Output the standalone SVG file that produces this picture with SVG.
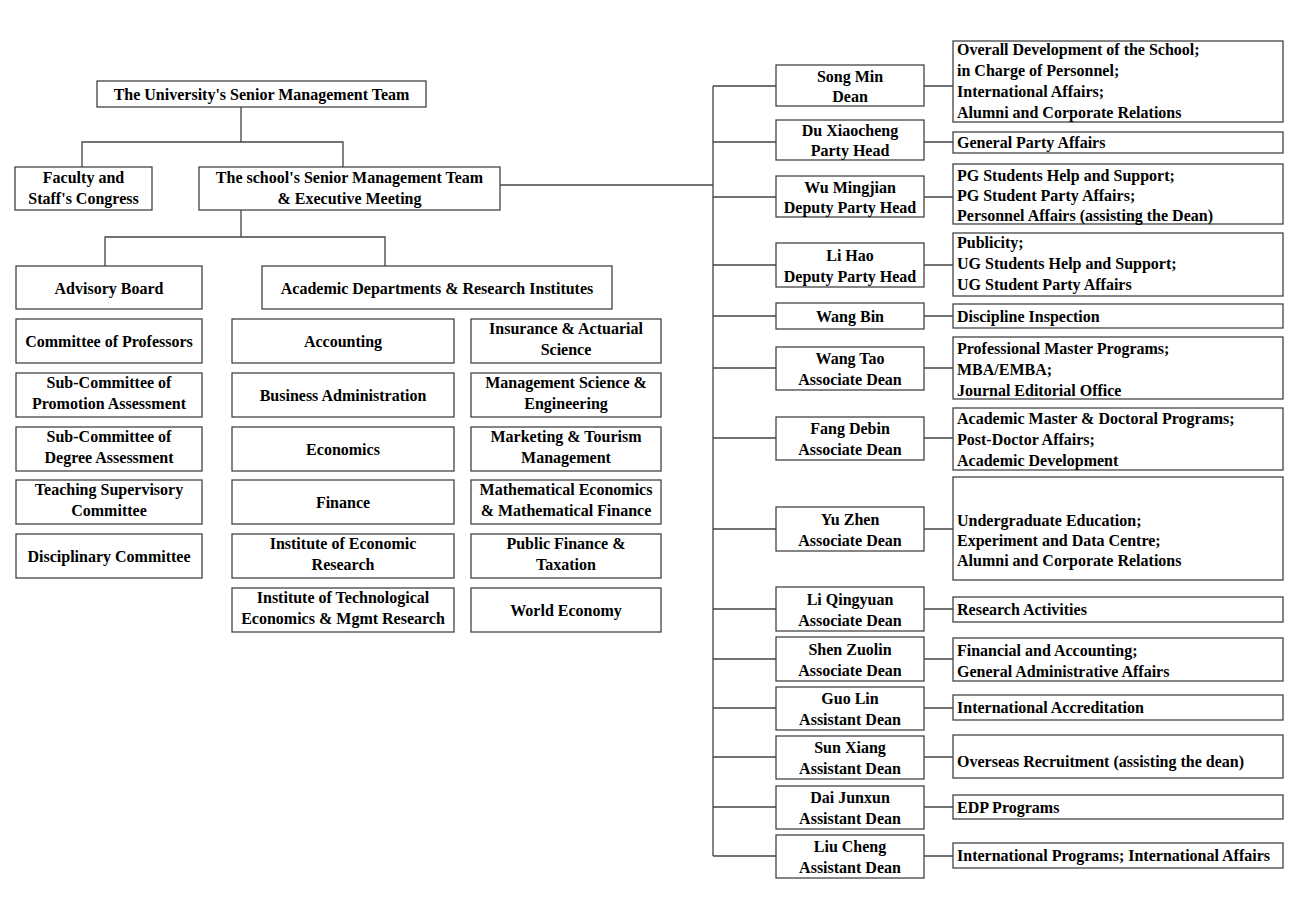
<svg xmlns="http://www.w3.org/2000/svg" width="1306" height="904" viewBox="0 0 1306 904">
<style>
.b{fill:#fff;stroke:#444;stroke-width:1.3}
.t{font-family:"Liberation Serif","Times New Roman",serif;font-weight:bold;font-size:16px;fill:#000}
.c{text-anchor:middle}
.ln{stroke:#444;stroke-width:1.3;fill:none}
</style>
<rect width="1306" height="904" fill="#fff"/>
<g id="connectors">
<path class="ln" d="M241,107V142M82,167V142H343V167M241,210V237M105,266V237H385V266M500,185H713M713,86V856"/>
<path class="ln" d="M713,86H776M924,86H953M713,142H776M924,142H953M713,197H776M924,197H953M713,265H776M924,265H953M713,316H776M924,316H953M713,368H776M924,368H953M713,438H776M924,438H953M713,529H776M924,529H953M713,609H776M924,609H953M713,659H776M924,659H953M713,708H776M924,708H953M713,757H776M924,757H953M713,807H776M924,807H953M713,856H776M924,856H953"/>
</g>
<g id="univ"><rect class="b" x="97" y="81" width="329" height="26"/><text class="t c" x="261.5" y="100">The University's Senior Management Team</text></g>
<g id="faculty"><rect class="b" x="15" y="167" width="137" height="43"/><text class="t c" x="83.5" y="183">Faculty and</text><text class="t c" x="83.5" y="204">Staff's Congress</text></g>
<g id="school"><rect class="b" x="199" y="167" width="301" height="43"/><text class="t c" x="349.5" y="183">The school's Senior Management Team</text><text class="t c" x="349.5" y="204">&amp; Executive Meeting</text></g>
<g id="advisory"><rect class="b" x="16" y="266" width="186" height="43"/><text class="t c" x="109" y="294">Advisory Board</text></g>
<g id="academic"><rect class="b" x="262" y="266" width="350" height="43"/><text class="t c" x="437" y="294">Academic Departments &amp; Research Institutes</text></g>
<g id="l1"><rect class="b" x="16" y="319" width="186" height="44"/><text class="t c" x="109" y="347">Committee of Professors</text></g>
<g id="l2"><rect class="b" x="16" y="373" width="186" height="44"/><text class="t c" x="109" y="388">Sub-Committee of</text><text class="t c" x="109" y="409">Promotion Assessment</text></g>
<g id="l3"><rect class="b" x="16" y="427" width="186" height="44"/><text class="t c" x="109" y="442">Sub-Committee of</text><text class="t c" x="109" y="463">Degree Assessment</text></g>
<g id="l4"><rect class="b" x="16" y="480" width="186" height="44"/><text class="t c" x="109" y="495">Teaching Supervisory</text><text class="t c" x="109" y="516">Committee</text></g>
<g id="l5"><rect class="b" x="16" y="534" width="186" height="44"/><text class="t c" x="109" y="562">Disciplinary Committee</text></g>
<g id="m1"><rect class="b" x="232" y="319" width="222" height="44"/><text class="t c" x="343" y="347">Accounting</text></g>
<g id="m2"><rect class="b" x="232" y="373" width="222" height="44"/><text class="t c" x="343" y="401">Business Administration</text></g>
<g id="m3"><rect class="b" x="232" y="427" width="222" height="44"/><text class="t c" x="343" y="455">Economics</text></g>
<g id="m4"><rect class="b" x="232" y="480" width="222" height="44"/><text class="t c" x="343" y="508">Finance</text></g>
<g id="m5"><rect class="b" x="232" y="534" width="222" height="44"/><text class="t c" x="343" y="549">Institute of Economic</text><text class="t c" x="343" y="570">Research</text></g>
<g id="m6"><rect class="b" x="232" y="588" width="222" height="44"/><text class="t c" x="343" y="603">Institute of Technological</text><text class="t c" x="343" y="624">Economics &amp; Mgmt Research</text></g>
<g id="r1"><rect class="b" x="471" y="319" width="190" height="44"/><text class="t c" x="566" y="334">Insurance &amp; Actuarial</text><text class="t c" x="566" y="355">Science</text></g>
<g id="r2"><rect class="b" x="471" y="373" width="190" height="44"/><text class="t c" x="566" y="388">Management Science &amp;</text><text class="t c" x="566" y="409">Engineering</text></g>
<g id="r3"><rect class="b" x="471" y="427" width="190" height="44"/><text class="t c" x="566" y="442">Marketing &amp; Tourism</text><text class="t c" x="566" y="463">Management</text></g>
<g id="r4"><rect class="b" x="471" y="480" width="190" height="44"/><text class="t c" x="566" y="495">Mathematical Economics</text><text class="t c" x="566" y="516">&amp; Mathematical Finance</text></g>
<g id="r5"><rect class="b" x="471" y="534" width="190" height="44"/><text class="t c" x="566" y="549">Public Finance &amp;</text><text class="t c" x="566" y="570">Taxation</text></g>
<g id="r6"><rect class="b" x="471" y="588" width="190" height="44"/><text class="t c" x="566" y="616">World Economy</text></g>

<g id="p1"><rect class="b" x="776" y="65" width="148" height="41"/><text class="t c" x="850" y="82">Song Min</text><text class="t c" x="850" y="102">Dean</text></g>
<g id="d1"><rect class="b" x="953" y="41" width="330" height="81"/><text class="t" x="957" y="55">Overall Development of the School;</text><text class="t" x="957" y="76">in Charge of Personnel;</text><text class="t" x="957" y="97">International Affairs;</text><text class="t" x="957" y="118">Alumni and Corporate Relations</text></g>
<g id="p2"><rect class="b" x="776" y="120" width="148" height="40"/><text class="t c" x="850" y="136">Du Xiaocheng</text><text class="t c" x="850" y="156">Party Head</text></g>
<g id="d2"><rect class="b" x="953" y="132" width="330" height="21"/><text class="t" x="957" y="148">General Party Affairs</text></g>
<g id="p3"><rect class="b" x="776" y="176" width="148" height="41"/><text class="t c" x="850" y="193">Wu Mingjian</text><text class="t c" x="850" y="213">Deputy Party Head</text></g>
<g id="d3"><rect class="b" x="953" y="164" width="330" height="60"/><text class="t" x="957" y="181">PG Students Help and Support;</text><text class="t" x="957" y="201">PG Student Party Affairs;</text><text class="t" x="957" y="221">Personnel Affairs (assisting the Dean)</text></g>
<g id="p4"><rect class="b" x="776" y="243" width="148" height="44"/><text class="t c" x="850" y="261">Li Hao</text><text class="t c" x="850" y="282">Deputy Party Head</text></g>
<g id="d4"><rect class="b" x="953" y="233" width="330" height="63"/><text class="t" x="957" y="248">Publicity;</text><text class="t" x="957" y="269">UG Students Help and Support;</text><text class="t" x="957" y="290">UG Student Party Affairs</text></g>
<g id="p5"><rect class="b" x="776" y="303" width="148" height="26"/><text class="t c" x="850" y="322">Wang Bin</text></g>
<g id="d5"><rect class="b" x="953" y="304" width="330" height="24"/><text class="t" x="957" y="322">Discipline Inspection</text></g>
<g id="p6"><rect class="b" x="776" y="347" width="148" height="43"/><text class="t c" x="850" y="364">Wang Tao</text><text class="t c" x="850" y="385">Associate Dean</text></g>
<g id="d6"><rect class="b" x="953" y="337" width="330" height="62"/><text class="t" x="957" y="354">Professional Master Programs;</text><text class="t" x="957" y="375">MBA/EMBA;</text><text class="t" x="957" y="396">Journal Editorial Office</text></g>
<g id="p7"><rect class="b" x="776" y="417" width="148" height="43"/><text class="t c" x="850" y="434">Fang Debin</text><text class="t c" x="850" y="455">Associate Dean</text></g>
<g id="d7"><rect class="b" x="953" y="408" width="330" height="62"/><text class="t" x="957" y="424">Academic Master &amp; Doctoral Programs;</text><text class="t" x="957" y="445">Post-Doctor Affairs;</text><text class="t" x="957" y="466">Academic Development</text></g>
<g id="p8"><rect class="b" x="776" y="507" width="148" height="44"/><text class="t c" x="850" y="525">Yu Zhen</text><text class="t c" x="850" y="546">Associate Dean</text></g>
<g id="d8"><rect class="b" x="953" y="477" width="330" height="103"/><text class="t" x="957" y="526">Undergraduate Education;</text><text class="t" x="957" y="546">Experiment and Data Centre;</text><text class="t" x="957" y="566">Alumni and Corporate Relations</text></g>
<g id="p9"><rect class="b" x="776" y="587" width="148" height="44"/><text class="t c" x="850" y="605">Li Qingyuan</text><text class="t c" x="850" y="626">Associate Dean</text></g>
<g id="d9"><rect class="b" x="953" y="597" width="330" height="25"/><text class="t" x="957" y="615">Research Activities</text></g>
<g id="p10"><rect class="b" x="776" y="637" width="148" height="44"/><text class="t c" x="850" y="655">Shen Zuolin</text><text class="t c" x="850" y="676">Associate Dean</text></g>
<g id="d10"><rect class="b" x="953" y="638" width="330" height="43"/><text class="t" x="957" y="656">Financial and Accounting;</text><text class="t" x="957" y="677">General Administrative Affairs</text></g>
<g id="p11"><rect class="b" x="776" y="687" width="148" height="43"/><text class="t c" x="850" y="704">Guo Lin</text><text class="t c" x="850" y="725">Assistant Dean</text></g>
<g id="d11"><rect class="b" x="953" y="695" width="330" height="25"/><text class="t" x="957" y="713">International Accreditation</text></g>
<g id="p12"><rect class="b" x="776" y="736" width="148" height="43"/><text class="t c" x="850" y="753">Sun Xiang</text><text class="t c" x="850" y="774">Assistant Dean</text></g>
<g id="d12"><rect class="b" x="953" y="735" width="330" height="43"/><text class="t" x="957" y="767">Overseas Recruitment (assisting the dean)</text></g>
<g id="p13"><rect class="b" x="776" y="786" width="148" height="43"/><text class="t c" x="850" y="803">Dai Junxun</text><text class="t c" x="850" y="824">Assistant Dean</text></g>
<g id="d13"><rect class="b" x="953" y="795" width="330" height="24"/><text class="t" x="957" y="813">EDP Programs</text></g>
<g id="p14"><rect class="b" x="776" y="835" width="148" height="43"/><text class="t c" x="850" y="852">Liu Cheng</text><text class="t c" x="850" y="873">Assistant Dean</text></g>
<g id="d14"><rect class="b" x="953" y="843" width="330" height="25"/><text class="t" x="957" y="861">International Programs; International Affairs</text></g>
</svg>
